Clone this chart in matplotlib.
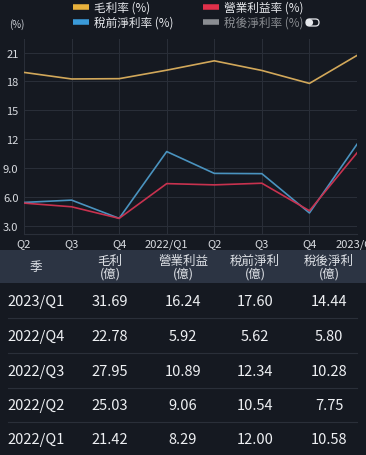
import matplotlib.pyplot as plt
from matplotlib.lines import Line2D
from matplotlib.patches import Rectangle, FancyBboxPatch, Circle

plt.rcParams['font.family'] = ['Noto Sans CJK TC', 'DejaVu Sans']

# chart data
quarters = ['Q2', 'Q3', 'Q4', '2022/Q1', 'Q2', 'Q3', 'Q4', '2023/Q1']
gross_margin = [18.94, 18.26, 18.29, 19.17, 20.14, 19.14, 17.80, 20.70]
op_margin = [5.40, 5.02, 3.82, 7.42, 7.29, 7.46, 4.61, 10.61]
pretax_margin = [5.47, 5.71, 3.82, 10.74, 8.48, 8.45, 4.38, 11.50]
yticks = [3, 6, 9, 12, 15, 18, 21]
ytick_labels = ['3.0', '6.0', '9.0', '12', '15', '18', '21']

# legend
series_labels = ['毛利率 (%)', '營業利益率 (%)', '稅前淨利率 (%)', '稅後淨利率 (%)']
legend_colors = ['#e8b13c', '#e0304a', '#3a9ad9', '#8a8d92']

# table data
headers = ['季', '毛利\n(億)', '營業利益\n(億)', '稅前淨利\n(億)', '稅後淨利\n(億)']
periods = ['2023/Q1', '2022/Q4', '2022/Q3', '2022/Q2', '2022/Q1']
gross_profit = ['31.69', '22.78', '27.95', '25.03', '21.42']
op_income = ['16.24', '5.92', '10.89', '9.06', '8.29']
pretax_income = ['17.60', '5.62', '12.34', '10.54', '12.00']
net_income = ['14.44', '5.80', '10.28', '7.75', '10.58']

bg = '#151921'
W, H = 366, 456
fig = plt.figure(figsize=(W / 100, H / 100), dpi=100, facecolor=bg)

def fx(px):
    return px / W

def fy(py):
    return 1 - py / H

ax = fig.add_axes([fx(24), fy(235), fx(357) - fx(24), fy(40) - fy(235)])
ax.set_facecolor(bg)
x = range(len(quarters))
ax.plot(x, gross_margin, color='#d2a85a', lw=1.2)
ax.plot(x, pretax_margin, color='#4a93bf', lw=1.2)
ax.plot(x, op_margin, color='#c8324f', lw=1.2)
ax.set_xlim(0, len(quarters) - 1)
ax.set_ylim(2.2, 22.4)
ax.set_xticks(list(x))
ax.set_xticklabels(quarters)
ax.set_yticks(yticks)
ax.set_yticklabels(ytick_labels)
ax.tick_params(colors='#d8dbe0', labelsize=8, length=0, pad=4)
ax.tick_params(axis='x', pad=3)
ax.grid(True, color='#2a2f39', lw=0.7)
for s in ax.spines.values():
    s.set_visible(False)
ax.spines['bottom'].set_visible(True)
ax.spines['bottom'].set_color('#2a2f39')

fig.text(fx(17), fy(25), '(%)', color='#cfd3da', fontsize=7, ha='center', va='center')

# legend, drawn by hand (2 x 2)
leg_pos = [(73, 8), (203, 8), (73, 23), (203, 23)]
for (lx, ly), lab, c in zip(leg_pos, series_labels, legend_colors):
    fig.add_artist(Line2D([fx(lx), fx(lx + 16)], [fy(ly), fy(ly)], transform=fig.transFigure,
                          color=c, lw=4, solid_capstyle='butt'))
    tc = '#8a8d92' if c == '#8a8d92' else '#e6e8ec'
    fig.text(fx(lx + 21), fy(ly), lab, color=tc, fontsize=8.4, ha='left', va='center')

# toggle icon
fig.add_artist(FancyBboxPatch((306 / 100, (H - 27) / 100), 13 / 100, 7 / 100,
                              boxstyle='round,pad=0,rounding_size=0.035',
                              transform=fig.dpi_scale_trans, fc='none', ec='#e6e8ec', lw=0.9))
fig.add_artist(Circle((309.5 / 100, (H - 23.5) / 100), 3.6 / 100,
                      transform=fig.dpi_scale_trans, fc='#e6e8ec', ec='none'))

# table header band
fig.add_artist(Rectangle((0, fy(284)), 1, fy(251) - fy(284), transform=fig.transFigure,
                         fc='#2c3443', ec='none'))
col_x = [36, 110, 183, 255, 329]
for cx, h in zip(col_x, headers):
    fig.text(fx(cx), fy(267.5), h, color='#dfe2e7', fontsize=9, ha='center', va='center',
             linespacing=1.0)

row_y = [302, 337, 372, 406, 440]
cols = [periods, gross_profit, op_income, pretax_income, net_income]
for i, ry in enumerate(row_y):
    for cx, col in zip(col_x, cols):
        fig.text(fx(cx), fy(ry), col[i], color='#eef0f3', fontsize=10.5, ha='center', va='center')
    if i < len(row_y) - 1:
        sep = ry + 17
        fig.add_artist(Line2D([fx(8), fx(357)], [fy(sep), fy(sep)], transform=fig.transFigure,
                              color='#2a2f39', lw=0.8))

fig.savefig('out.png', dpi=100, facecolor=bg)
